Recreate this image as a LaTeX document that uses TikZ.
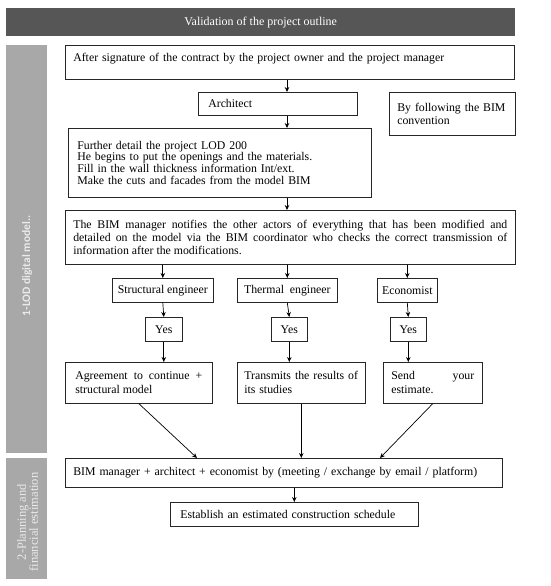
\documentclass[tikz,border=0pt]{standalone}
\usepackage{fontspec}
\setmainfont{Liberation Serif}
\newfontfamily\phasefont{Carlito}
\usetikzlibrary{arrows.meta}
\definecolor{bardark}{HTML}{565656}
\definecolor{barlight}{HTML}{A8A8A8}
\definecolor{barfont}{HTML}{EAEAEA}
\tikzset{
  box/.style={draw=black!85, line width=0.6pt, inner sep=0pt, anchor=north west,
    font=\fontsize{11.8}{11.8}\selectfont},
  actor/.style={box, align=center},
  arr/.style={-{Stealth[length=5pt,width=4.5pt]}, line width=0.7pt},
  phase/.style={fill=barlight, inner sep=0pt, anchor=north west},
  phaselabel/.style={text=barfont, rotate=90, inner sep=0pt, align=center}
}
\begin{document}
\begin{tikzpicture}[x=1pt, y=-1pt]
  \useasboundingbox (0,0) rectangle (550,586);
  % Header and phases
  \node[fill=bardark, text=white, anchor=north west, minimum width=509pt,
        minimum height=28pt, inner sep=0pt, font=\fontsize{12}{12}\selectfont]
        (title) at (6,8) {Validation of the project outline};
  \node[phase, minimum width=41pt, minimum height=408pt] (lod) at (6,45) {};
  \node[phase, minimum width=41pt, minimum height=121pt] (plan) at (6,458) {};
  \node[phaselabel, font=\phasefont\bfseries\fontsize{11.5}{12}\selectfont]
        (lodtext) at (27,266) {1-LOD digital model..};
  \node[phaselabel, font=\fontsize{12.5}{12}\selectfont]
        (plantext) at (27.5,522) {2-Planning and\\financial estimation};
  % Column lines
  \coordinate (spine) at (287,0);
  \coordinate (inA) at (197,0);
  \coordinate (inC) at (380,0);
  % First phase
  \node[box, minimum width=449pt, minimum height=34pt, inner xsep=8pt, text width=433pt,
        align=left, text height=13pt, text depth=15pt] (sign) at (65,45)
        {After signature of the contract by the project owner and the project manager};
  \node[box, minimum width=159pt, minimum height=23pt, inner xsep=10pt, text width=139pt,
        align=left] (arch) at (198,92) {Architect};
  \node[box, minimum width=126pt, minimum height=43pt, inner xsep=8pt, text width=110pt,
        align=left, font=\fontsize{11.8}{12.5}\selectfont] (conv) at (389,92)
        {By following the BIM\\convention};
  \node[box, minimum width=303pt, minimum height=69pt, inner xsep=9pt, text width=285pt,
        align=left] (detail) at (68,128)
        {Further detail the project LOD 200\\
         He begins to put the openings and the materials.\\
         Fill in the wall thickness information Int/ext.\\
         Make the cuts and facades from the model BIM};
  \node[box, minimum width=450pt, minimum height=54pt, inner xsep=8pt, text width=434pt,
        align=justify, font=\fontsize{11.8}{13}\selectfont] (notify) at (65,210)
        {The BIM manager notifies the other actors of everything that has been modified and\linebreak
         detailed on the model via the BIM coordinator who checks the correct transmission of\linebreak
         information after the modifications.};
  \node[actor, minimum width=101pt, minimum height=24pt] (struct) at (112,278) {Structural engineer};
  \node[actor, minimum width=100pt, minimum height=24pt] (therm) at (237,278) {Thermal\ \ engineer};
  \node[actor, minimum width=60pt, minimum height=24pt] (econ) at (377,278) {Economist};
  \node[actor, minimum width=37pt, minimum height=24pt] (yesA) at (145,317) {Yes};
  \node[actor, minimum width=36pt, minimum height=24pt] (yesB) at (271,317) {Yes};
  \node[actor, minimum width=36pt, minimum height=24pt] (yesC) at (390,317) {Yes};
  \node[box, minimum width=147pt, minimum height=41pt, inner xsep=10pt, text width=127pt,
        align=justify, font=\fontsize{11.8}{14}\selectfont] (resA) at (65,362)
        {Agreement to continue +\linebreak structural model};
  \node[box, minimum width=128pt, minimum height=41pt, inner xsep=7pt, text width=114pt,
        align=left, font=\fontsize{11.8}{14}\selectfont] (resB) at (237,362)
        {Transmits the results of\\its studies};
  \node[box, minimum width=99pt, minimum height=41pt, inner xsep=8pt, text width=83pt,
        align=justify, font=\fontsize{11.8}{14}\selectfont] (resC) at (383,362)
        {Send your\linebreak estimate.};
  % Second phase
  \node[box, minimum width=437pt, minimum height=29pt, inner xsep=8pt, text width=421pt,
        align=left] (meet) at (65,458)
        {BIM manager + architect + economist by (meeting / exchange by email / platform)};
  \node[box, minimum width=248pt, minimum height=24pt, inner xsep=10pt, text width=228pt,
        align=left] (sched) at (170,502) {Establish an estimated construction schedule};
  % Arrows
  \draw[arr] (sign.south -| spine) -- (arch.north -| spine);
  \draw[arr] (arch.south -| spine) -- (detail.north -| spine);
  \draw[arr] (detail.south -| spine) -- (notify.north -| spine);
  \foreach \a/\b/\c in {struct/yesA/resA, therm/yesB/resB, econ/yesC/resC} {
    \draw[arr] (notify.south -| \a.north) -- (\a.north);
    \draw[arr] (\a.south) -- (\b.north);
    \draw[arr] (\b.south) -- (\b.south |- \c.north);
  }
  \draw[arr] (resA.south) -- (meet.north -| inA);
  \draw[arr] (resB.south) -- (meet.north -| resB.south);
  \draw[arr] (resC.south) -- (meet.north -| inC);
  \draw[arr] (meet.south -| sched.north) -- (sched.north);
\end{tikzpicture}
\end{document}
